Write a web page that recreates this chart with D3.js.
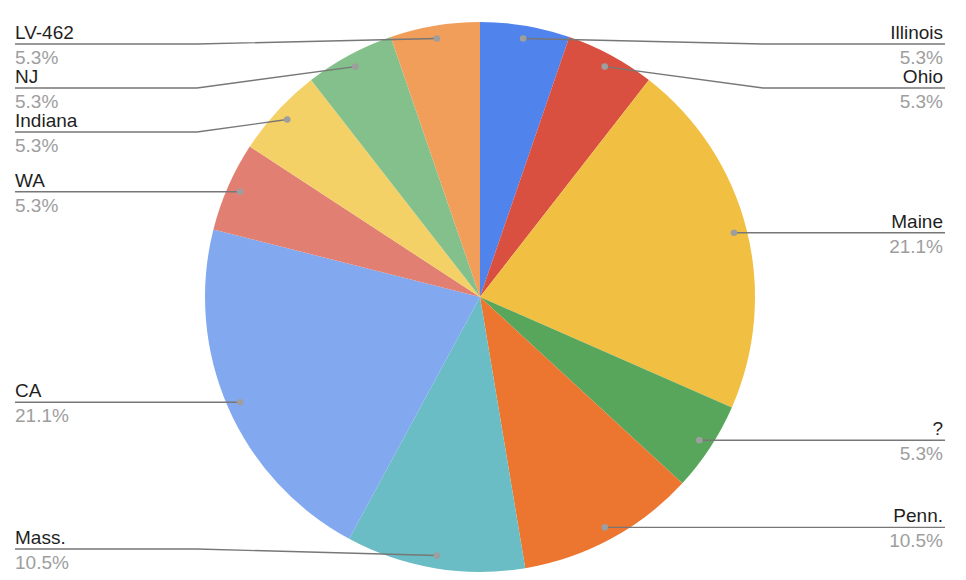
<!DOCTYPE html>
<html>
<head>
<meta charset="utf-8">
<script src="https://cdn.jsdelivr.net/npm/d3@7"></script>
<style>
  body { margin: 0; background: #fff; }
  svg { display: block; font-family: "Liberation Sans", Arial, sans-serif; }
</style>
</head>
<body>
<svg id="chart" width="966" height="580"></svg>
<script>
// slice order clockwise from 12 o'clock
const states = ["Illinois", "Ohio", "Maine", "?", "Penn.", "Mass.", "CA", "WA", "Indiana", "NJ", "LV-462"];
const counts = [1, 1, 4, 1, 2, 2, 4, 1, 1, 1, 1];
const colors = ["#5083ec", "#d95040", "#f1c042", "#58a65c", "#ec752f", "#6abdc4",
                "#82a8f0", "#e27f73", "#f4d166", "#84c08b", "#f09e5a"];

const width = 966, height = 580;
const cx = 480, cy = 297;
const radius = 275;
const dotRadius = 262;
const labelGap = 44;      // min distance between two stacked labels
const topY = 44, bottomY = 549;
const leftX = 15, rightX = 943;

const data = states.map((s, i) => ({ name: s, value: counts[i], color: colors[i] }));
const total = d3.sum(counts);

const svg = d3.select("#chart");
const g = svg.append("g").attr("transform", "translate(" + cx + "," + cy + ")");

const pie = d3.pie().sort(null).value(d => d.value);
const arcs = pie(data);

const arc = d3.arc().innerRadius(0).outerRadius(radius);
const dotArc = d3.arc().innerRadius(dotRadius).outerRadius(dotRadius);

g.selectAll("path.slice")
  .data(arcs)
  .enter()
  .append("path")
  .attr("class", "slice")
  .attr("fill", d => d.data.color)
  .attr("d", arc);

// label placement: each side stacked by dot height, then pushed apart
arcs.forEach(d => {
  d.dot = dotArc.centroid(d);
  d.right = (d.startAngle + d.endAngle) / 2 < Math.PI;
});

[true, false].forEach(side => {
  const list = arcs.filter(d => d.right === side)
    .sort((a, b) => a.dot[1] - b.dot[1]);
  let prev = -Infinity;
  list.forEach(d => {
    d.ly = Math.max(d.dot[1] + cy, prev + labelGap, topY);
    prev = d.ly;
  });
  let next = Infinity;
  for (let i = list.length - 1; i >= 0; i--) {
    const d = list[i];
    d.ly = Math.min(d.ly, next - labelGap, bottomY);
    next = d.ly;
  }
});

const bendOffset = radius + 8;

const labels = svg.append("g");

labels.selectAll("polyline")
  .data(arcs)
  .enter()
  .append("polyline")
  .attr("fill", "none")
  .attr("stroke", "#777")
  .attr("stroke-width", 1.4)
  .attr("points", d => {
    const dx = cx + d.dot[0], dy = cy + d.dot[1];
    const bx = d.right ? cx + bendOffset : cx - bendOffset;
    const ex = d.right ? rightX + 2 : leftX;
    return [[dx, dy], [bx, d.ly], [ex, d.ly]].map(p => p.join(",")).join(" ");
  });

labels.selectAll("circle")
  .data(arcs)
  .enter()
  .append("circle")
  .attr("cx", d => cx + d.dot[0])
  .attr("cy", d => cy + d.dot[1])
  .attr("r", 3.3)
  .attr("fill", "#9e9e9e");

labels.selectAll("text.name")
  .data(arcs)
  .enter()
  .append("text")
  .attr("class", "name")
  .attr("x", d => d.right ? rightX : leftX)
  .attr("y", d => d.ly - 5)
  .attr("text-anchor", d => d.right ? "end" : "start")
  .attr("font-size", 19)
  .attr("fill", "#1f1f1f")
  .text(d => d.data.name);

labels.selectAll("text.pct")
  .data(arcs)
  .enter()
  .append("text")
  .attr("class", "pct")
  .attr("x", d => d.right ? rightX : leftX)
  .attr("y", d => d.ly + 20)
  .attr("text-anchor", d => d.right ? "end" : "start")
  .attr("font-size", 19)
  .attr("fill", "#9e9e9e")
  .text(d => (d.data.value / total * 100).toFixed(1) + "%");
</script>
</body>
</html>
